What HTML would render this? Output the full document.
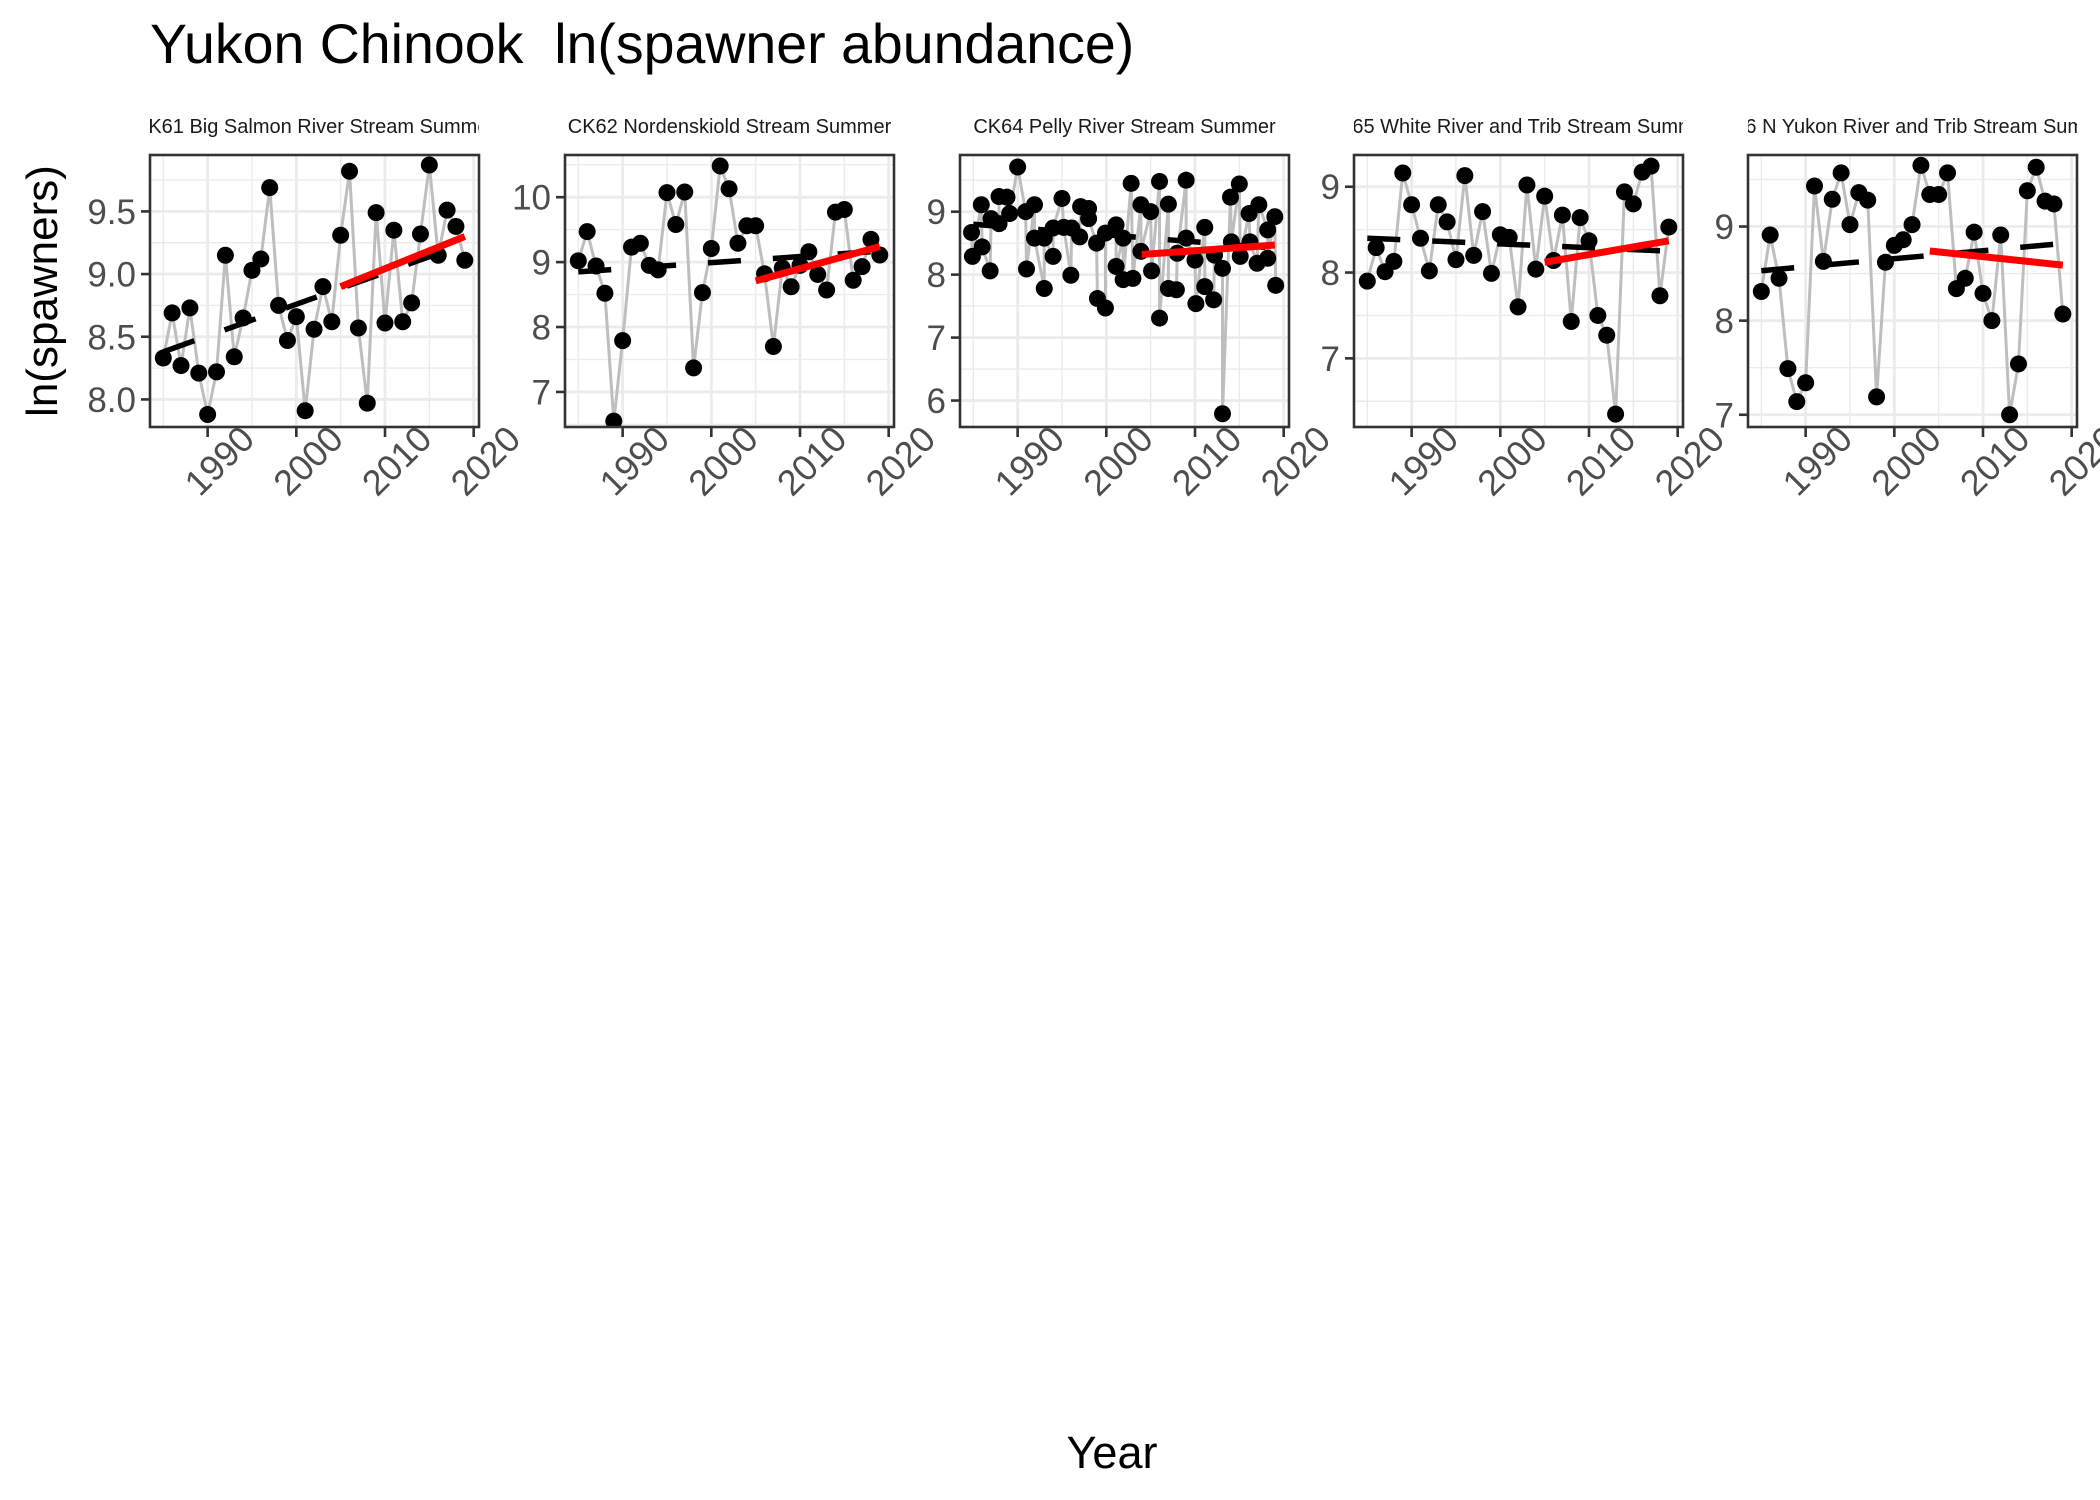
<!DOCTYPE html>
<html><head><meta charset="utf-8">
<style>
html,body{margin:0;padding:0;background:#fff;}
svg{display:block;font-family:"Liberation Sans",sans-serif;}
</style></head>
<body>
<svg id="chart" width="2100" height="1500" viewBox="0 0 2100 1500">
<text x="150" y="63" font-size="55.5" fill="#000" style="white-space:pre" xml:space="preserve">Yukon Chinook  ln(spawner abundance)</text>
<text transform="translate(57,291) rotate(-90)" text-anchor="middle" font-size="44" fill="#000">ln(spawners)</text>
<text x="1112" y="1468" text-anchor="middle" font-size="45" fill="#000">Year</text>
</svg>
<script>
const panelTitles = ["CK61 Big Salmon River Stream Summer","CK62 Nordenskiold Stream Summer","CK64 Pelly River Stream Summer","CK65 White River and Trib Stream Summer","CK66 N Yukon River and Trib Stream Summer"];
const xTicks = [1990,2000,2010,2020];
const yTicks1 = [8.0,8.5,9.0,9.5];
const yTicks2 = [7,8,9,10];
const yTicks3 = [6,7,8,9];
const yTicks4 = [7,8,9];
const yTicks5 = [7,8,9];
const yLabels1 = ["8.0","8.5","9.0","9.5"];
const yDomains = [[7.78,9.95],[6.46,10.65],[5.58,9.9],[6.2,9.37],[6.87,9.76]];
const years = [1985,1986,1987,1988,1989,1990,1991,1992,1993,1994,1995,1996,1997,1998,1999,2000,2001,2002,2003,2004,2005,2006,2007,2008,2009,2010,2011,2012,2013,2014,2015,2016,2017,2018,2019];
const vals1 = [8.33,8.69,8.27,8.73,8.21,7.88,8.22,9.15,8.34,8.65,9.03,9.12,9.69,8.75,8.47,8.66,7.91,8.56,8.90,8.62,9.31,9.82,8.57,7.97,9.49,8.61,9.35,8.62,8.77,9.32,9.87,9.15,9.51,9.38,9.11];
const vals2 = [9.02,9.47,8.94,8.52,6.55,7.79,9.23,9.29,8.95,8.88,10.07,9.58,10.08,7.37,8.53,9.21,10.48,10.13,9.29,9.56,9.56,8.82,7.70,8.91,8.62,8.95,9.16,8.81,8.57,9.77,9.81,8.72,8.93,9.35,9.11];
const years3 = [1984.8,1984.9,1985.9,1986.0,1986.9,1987.0,1987.9,1987.9,1988.8,1989.1,1990.0,1990.9,1991.0,1991.9,1991.9,1993.0,1993.0,1994.0,1994.0,1995.0,1995.2,1996.0,1996.1,1997.0,1997.1,1998.0,1998.0,1998.9,1999.0,1999.9,1999.9,2001.1,2001.1,2001.9,2001.9,2002.8,2003.0,2003.9,2003.9,2005.0,2005.1,2006.0,2006.0,2007.0,2007.0,2007.9,2008.0,2009.0,2009.0,2010.0,2010.1,2011.1,2011.1,2012.1,2012.2,2013.1,2013.1,2014.0,2014.1,2015.0,2015.1,2016.1,2016.2,2017.0,2017.2,2018.2,2018.2,2019.0,2019.1];
const vals3 = [8.67,8.29,9.11,8.44,8.06,8.89,8.81,9.24,9.23,8.97,9.71,9.00,8.09,9.11,8.58,7.78,8.58,8.29,8.74,9.21,8.75,7.99,8.74,8.60,9.08,9.05,8.89,8.50,7.62,7.47,8.66,8.79,8.13,8.58,7.92,9.45,7.94,9.11,8.37,9.00,8.06,9.48,7.31,9.12,7.78,7.76,8.34,9.50,8.58,8.23,7.54,8.75,7.81,7.60,8.31,8.10,5.79,9.23,8.52,9.44,8.29,8.97,8.52,8.18,9.11,8.71,8.26,8.92,7.83];
const vals4 = [7.90,8.29,8.01,8.13,9.16,8.79,8.40,8.02,8.79,8.59,8.15,9.13,8.20,8.71,7.99,8.44,8.41,7.60,9.02,8.04,8.89,8.14,8.67,7.43,8.64,8.37,7.50,7.27,6.35,8.94,8.80,9.17,9.24,7.73,8.53];
const vals5 = [8.31,8.91,8.45,7.49,7.14,7.34,9.43,8.63,9.29,9.57,9.02,9.36,9.28,7.19,8.62,8.80,8.86,9.02,9.65,9.34,9.34,9.57,8.34,8.45,8.94,8.29,8.00,8.91,7.00,7.54,9.38,9.63,9.27,9.24,8.07];
// trend endpoints: [startYear, startVal, endYear, endVal]
const allTrend = [[1985,8.38,2019,9.24],[1985,8.85,2019,9.17],[1985,8.80,2019,8.42],[1985,8.40,2019,8.25],[1985,8.53,2019,8.82]];
const recentTrend = [[2005,8.90,2019,9.30],[2005,8.71,2019,9.24],[2004,8.32,2019,8.47],[2005,8.12,2019,8.37],[2004,8.74,2019,8.59]];

const NS="http://www.w3.org/2000/svg";
const svg=document.getElementById('chart');
function mk(tag,attrs,parent){const e=document.createElementNS(NS,tag);for(const k in attrs)e.setAttribute(k,attrs[k]);(parent||svg).appendChild(e);return e;}
const lefts=[150,565,960,1354,1748];
const PW=329, PT=155, PB=427;
const XD=[1983.5,2020.6];
const panelYears=[years,years,years3,years,years];
const panelVals=[vals1,vals2,vals3,vals4,vals5];
const panelYT=[yTicks1,yTicks2,yTicks3,yTicks4,yTicks5];
const defs=mk('defs',{});
for(let p=0;p<5;p++){
  const L=lefts[p], R=L+PW;
  const xs=y=>L+(y-XD[0])/(XD[1]-XD[0])*PW;
  const ys=v=>PB-(v-yDomains[p][0])/(yDomains[p][1]-yDomains[p][0])*(PB-PT);
  const g=mk('g',{});
  
  
  const cp=mk('clipPath',{id:'cs'+p},defs); mk('rect',{x:L,y:100,width:PW,height:50},cp);
  const cp2=mk('clipPath',{id:'cp'+p},defs); mk('rect',{x:L,y:PT,width:PW,height:PB-PT},cp2);
  const st=mk('text',{x:L+PW/2,y:133,'text-anchor':'middle','font-size':20,fill:'#1a1a1a','clip-path':'url(#cs'+p+')'},g);
  st.textContent=panelTitles[p];
  
  
  const plot=mk('g',{'clip-path':'url(#cp'+p+')'},g);
  const yt=panelYT[p];
  const step=yt[1]-yt[0];
  for(let v=yt[0]-step*1.5; v<=yDomains[p][1]+step; v+=step){ if(v>yDomains[p][0]&&v<yDomains[p][1]) mk('line',{x1:L,x2:R,y1:ys(v),y2:ys(v),stroke:'#ebebeb','stroke-width':1.4},plot);}
  for(let y=1985;y<=2015;y+=10) mk('line',{x1:xs(y),x2:xs(y),y1:PT,y2:PB,stroke:'#ebebeb','stroke-width':1.4},plot);
  for(const v of yt) mk('line',{x1:L,x2:R,y1:ys(v),y2:ys(v),stroke:'#ebebeb','stroke-width':2.8},plot);
  for(const y of xTicks) mk('line',{x1:xs(y),x2:xs(y),y1:PT,y2:PB,stroke:'#ebebeb','stroke-width':2.8},plot);
  const yrs=panelYears[p], vs=panelVals[p];
  const pl=mk('polyline',{points:yrs.map((y,i)=>xs(y)+','+ys(vs[i])).join(' '),fill:'none',stroke:'#bebebe','stroke-width':3},plot);
  
  
  yrs.forEach((y,i)=>{const c=mk('circle',{cx:xs(y),cy:ys(vs[i]),r:8.5,fill:'#000'},plot);
    
    });
  const a=allTrend[p];
  const dl=mk('line',{x1:xs(a[0]),y1:ys(a[1]),x2:xs(a[2]),y2:ys(a[3]),stroke:'#000','stroke-width':5.5,'stroke-dasharray':'33 32'},plot);
  
  
  const r=recentTrend[p];
  const rl=mk('line',{x1:xs(r[0]),y1:ys(r[1]),x2:xs(r[2]),y2:ys(r[3]),stroke:'#ff0000','stroke-width':7},plot);
  
  
  const bd=mk('rect',{x:L,y:PT,width:PW,height:PB-PT,fill:'none',stroke:'#333','stroke-width':2.6},g);
  
  
  yt.forEach((v,i)=>{
    mk('line',{x1:L-9,x2:L,y1:ys(v),y2:ys(v),stroke:'#333','stroke-width':2.6},g);
    const t=mk('text',{x:L-14,y:ys(v)+12.5,'text-anchor':'end','font-size':35,fill:'#4d4d4d'},g);
    t.textContent=p===0?yLabels1[i]:String(v);
    
    
  });
  xTicks.forEach(y=>{
    mk('line',{x1:xs(y),x2:xs(y),y1:PB,y2:PB+10,stroke:'#333','stroke-width':2.6},g);
    const cx=xs(y)+12, cy=PB+34;
    const t=mk('text',{x:cx,y:cy+12,'text-anchor':'middle','font-size':36,fill:'#4d4d4d',transform:'rotate(-45 '+cx+' '+cy+')'},g);
    t.textContent=String(y);
    
    
  });
}
</script>
</body></html>
